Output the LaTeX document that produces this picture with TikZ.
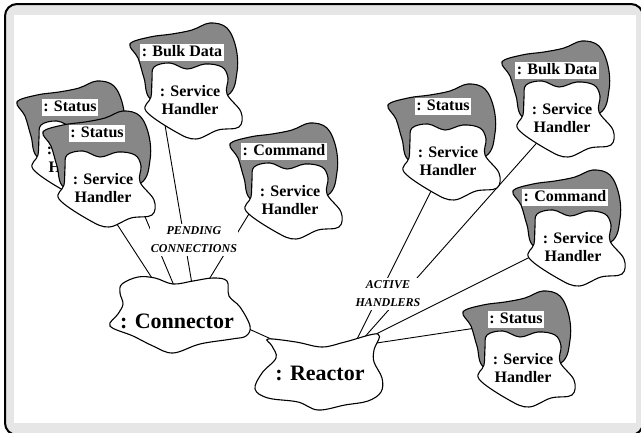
\documentclass[tikz,border=0pt]{standalone}
\usepackage{fontspec}
\setmainfont{Liberation Serif}
\definecolor{blobgray}{RGB}{135,135,135}
\definecolor{bandgray}{RGB}{230,230,230}
\tikzset{
  frameline/.style={draw=black, line width=2pt, rounded corners=12pt, fill=bandgray},
  grayblob/.style={draw=black, line width=1.1pt, fill=blobgray},
  whiteblob/.style={draw=black, line width=1.1pt, fill=white},
  handlertext/.style={font=\fontsize{16}{18}\selectfont\bfseries, align=center, inner sep=0pt},
  labelbox/.style={fill=white, font=\fontsize{16}{18}\selectfont\bfseries, inner xsep=1.5pt, inner ysep=1pt, text height=12pt, text depth=3pt},
  hubtext/.style={font=\fontsize{22}{24}\selectfont\bfseries, inner sep=0pt},
  notelabel/.style={fill=white, font=\fontsize{12}{18}\selectfont\bfseries\itshape, align=center, inner xsep=1pt, inner ysep=3pt},
  link/.style={draw=black, line width=0.9pt}
}
\newcommand\myhandler[6]{%
  \begin{scope}[shift={(#2,#3)}]
    \draw[grayblob] plot[smooth cycle, tension=0.6] coordinates {(-60,-56) (-40,-63) (-18,-66) (2,-70) (20,-77) (37,-72) (46,-52) (47,-28) (38,-5) (0,5) (-38,0) (-46,-22) (-52,-42)};
    \draw[whiteblob] plot[smooth cycle, tension=0.6] coordinates {(-36,-33) (-20,-37) (-3,-31) (15,-36) (32,-33) (38,-22) (37,-6) (51,12) (49,27) (28,30) (6,39) (-14,32) (-44,11) (-39,-3) (-38,-20)};
  \end{scope}
  \node[handlertext] (#1) at (#2,#3) {: Service\\Handler};
  \node[labelbox] (#1l) at (#4,#5) {#6};
}
\begin{document}
\begin{tikzpicture}[x=1pt,y=-1pt]
\useasboundingbox (0,0) rectangle (641,432);
\begin{scope}
\clip (0,0) rectangle (641,432);
\draw[frameline] (5,4) rectangle (643,435);
\fill[white] (14,15) rectangle (636,423);
\end{scope}
% connector end points
\coordinate (p1a) at (100,198); \coordinate (p1b) at (157.5,286.5);
\coordinate (p2a) at (138,200); \coordinate (p2b) at (175,288);
\coordinate (p3a) at (165,125); \coordinate (p3b) at (193,290);
\coordinate (p4a) at (255,204); \coordinate (p4b) at (205,286);
\coordinate (cra) at (240,325); \coordinate (crb) at (280,343);
\coordinate (a1a) at (434,185); \coordinate (a1b) at (355,343);
\coordinate (a2a) at (542,137); \coordinate (a2b) at (362,340);
\coordinate (a3a) at (536,254); \coordinate (a3b) at (370,337);
\coordinate (a4a) at (476,328); \coordinate (a4b) at (370,344);
\draw[link] (p1a) -- (p1b);
\draw[link] (p2a) -- (p2b);
\draw[link] (p3a) -- (p3b);
\draw[link] (p4a) -- (p4b);
\draw[link] (cra) -- (crb);
\draw[link] (a1a) -- (a1b);
\draw[link] (a2a) -- (a2b);
\draw[link] (a3a) -- (a3b);
\draw[link] (a4a) -- (a4b);
% handlers
\myhandler{backS}{77}{158}{70}{107}{: Status}
\myhandler{frontS}{103}{188}{97}{133}{: Status}
\myhandler{bulkL}{190}{100}{182}{52}{: Bulk Data}
\myhandler{cmdL}{290}{200}{284}{151}{: Command}
\myhandler{statM}{448}{161}{443}{106}{: Status}
\myhandler{bulkR}{562}{118}{557}{70}{: Bulk Data}
\myhandler{cmdR}{573}{247}{565}{197}{: Command}
\myhandler{statB}{523}{368}{516}{319}{: Status}
% hubs
\draw[whiteblob] plot[smooth cycle, tension=0.6] coordinates {(122,284) (138,277) (155,278) (173,284) (193,281) (213,278) (227,281) (229,296) (240,307) (250,326) (246,336) (232,339) (200,344) (173,353) (153,346) (133,336) (110,326) (118,314) (123,304) (120,293)};
\node[hubtext] (con) at (177,321) {: Connector};
\draw[whiteblob] plot[smooth cycle, tension=0.6] coordinates {(268,339) (296,342) (322,347) (345,342) (378,334) (374,350) (374,362) (382,378) (381,392) (368,401) (345,405) (318,410) (298,402) (268,398) (255,389) (262,373) (276,358) (272,346)};
\node[hubtext] (rea) at (320,373) {: Reactor};
% notes
\node[notelabel] (pend) at (194,240) {PENDING\\CONNECTIONS};
\node[notelabel] (act) at (388,294) {ACTIVE\\HANDLERS};
\end{tikzpicture}
\end{document}
